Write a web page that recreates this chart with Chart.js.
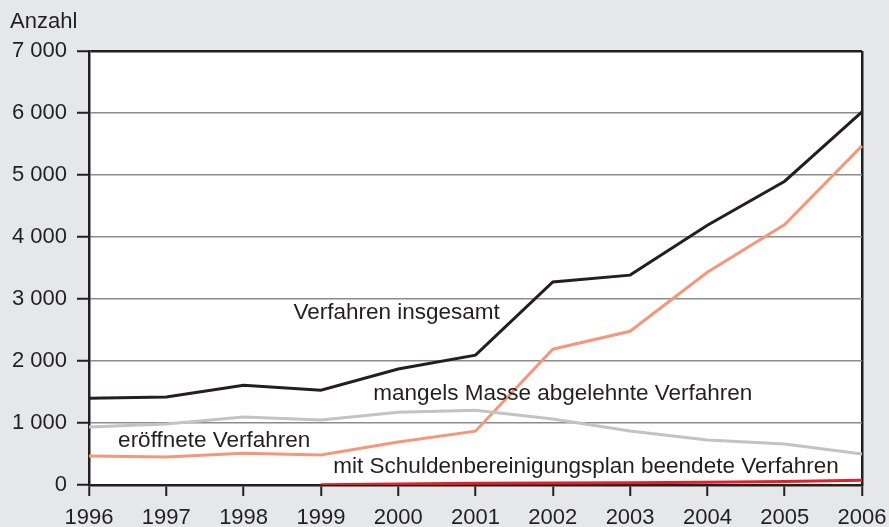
<!DOCTYPE html>
<html>
<head>
<meta charset="utf-8">
<script src="https://cdn.jsdelivr.net/npm/chart.js@4/dist/chart.umd.min.js"></script>
<style>
  html, body { margin: 0; padding: 0; background: #e6e7e9; }
  #wrap { position: relative; width: 889px; height: 527px; }
</style>
</head>
<body>
<div id="wrap"><canvas id="ch"></canvas></div>
<script>
// Insolvency proceedings per year.
const years = ['1996', '1997', '1998', '1999', '2000', '2001', '2002', '2003', '2004', '2005', '2006'];
const insgesamt = [1400, 1420, 1610, 1530, 1870, 2095, 3275, 3385, 4190, 4900, 6020];
const eroeffnet = [468, 452, 512, 484, 694, 868, 2190, 2480, 3430, 4200, 5470];
const mangelsMasse = [935, 984, 1095, 1048, 1175, 1205, 1065, 870, 726, 661, 500];
const schuldenplan = [null, null, null, 5, 15, 30, 32, 36, 45, 55, 75];
const yTicks = [0, 1000, 2000, 3000, 4000, 5000, 6000, 7000];

// In-chart series labels: [text, x (year index), y (Anzahl)]
const seriesLabels = [
  ['Verfahren insgesamt', 3.98, 2780],
  ['mangels Masse abgelehnte Verfahren', 6.13, 1470],
  ['eröffnete Verfahren', 1.62, 710],
  ['mit Schuldenbereinigungsplan beendete Verfahren', 6.43, 290],
];

const C = { ink: '#231f20', grid: '#8c8c8c', bg: '#e6e7e9' };
const FONT = "'Liberation Sans', Arial, Helvetica, sans-serif";
const fmt = v => String(v).replace(/\B(?=(\d{3})+(?!\d))/g, ' ');

// Grey page background, white plot area, labels placed via the scales.
const decor = {
  id: 'decor',
  beforeDraw(chart) {
    const { ctx, chartArea: a } = chart;
    ctx.save();
    ctx.fillStyle = C.bg;
    ctx.fillRect(0, 0, chart.width, chart.height);
    ctx.fillStyle = '#fff';
    ctx.fillRect(a.left, a.top, a.right - a.left, a.bottom - a.top);
    ctx.restore();
  },
  afterDraw(chart) {
    const { ctx, scales: { x, y } } = chart;
    ctx.save();
    ctx.fillStyle = C.ink;
    ctx.font = '22.5px ' + FONT;
    ctx.textBaseline = 'middle';
    ctx.textAlign = 'center';
    seriesLabels.forEach(([t, xi, yv]) => ctx.fillText(t, x.getPixelForValue(xi), y.getPixelForValue(yv)));
    ctx.font = '22px ' + FONT;
    ctx.textAlign = 'left';
    ctx.fillText('Anzahl', 10, 22);
    ctx.restore();
  },
};

const line = (data, color) => ({
  data, borderColor: color, borderWidth: 3, pointRadius: 0, tension: 0, fill: false, spanGaps: false,
});

new Chart(document.getElementById('ch'), {
  type: 'line',
  data: {
    labels: years,
    datasets: [
      line(mangelsMasse, '#c1c3c6'),
      line(eroeffnet, '#f4977a'),
      line(schuldenplan, '#e4202a'),
      line(insgesamt, C.ink),
    ],
  },
  options: {
    responsive: true,
    maintainAspectRatio: false,
    animation: false,
    layout: { autoPadding: false, padding: { top: 51, right: 27, left: 0, bottom: 0 } },
    plugins: { legend: { display: false }, tooltip: { enabled: false } },
    scales: {
      x: {
        offset: false,
        border: { color: C.ink, width: 2.5 },
        grid: {
          drawOnChartArea: true,
          color: ctx => ctx.index === years.length - 1 ? C.ink : 'rgba(0,0,0,0)',
          lineWidth: 2.5,
          tickColor: C.ink, tickLength: 11, tickWidth: 2,
        },
        ticks: { color: C.ink, font: { family: FONT, size: 22 }, padding: 9, maxRotation: 0, autoSkip: false },
        afterFit: s => { s.height = 42; s.paddingLeft = 0; s.paddingRight = 0; },
      },
      y: {
        min: 0, max: 7000,
        afterBuildTicks: s => { s.ticks = yTicks.map(v => ({ value: v })); },
        border: { color: C.ink, width: 2.5 },
        grid: {
          color: ctx => ctx.tick && ctx.tick.value === 7000 ? C.ink : C.grid,
          lineWidth: ctx => ctx.tick && ctx.tick.value === 7000 ? 2.5 : 1.5,
          tickColor: C.ink, tickLength: 12, tickWidth: 2,
        },
        ticks: { color: C.ink, font: { family: FONT, size: 22 }, padding: 10, callback: v => fmt(v) },
        afterFit: s => { s.width = 89; s.paddingTop = 0; s.paddingBottom = 0; },
      },
    },
  },
  plugins: [decor],
});
</script>
</body>
</html>
